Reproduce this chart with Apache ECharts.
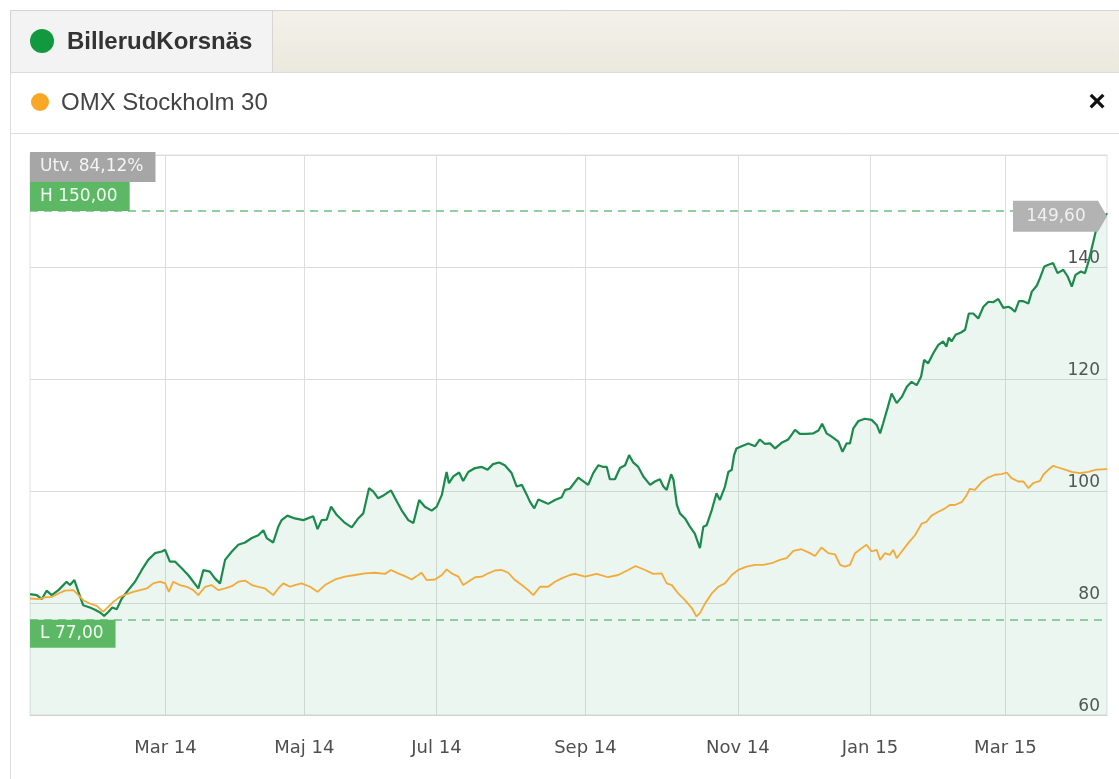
<!DOCTYPE html>
<html>
<head>
<meta charset="utf-8">
<script src="https://cdn.jsdelivr.net/npm/echarts@6/dist/echarts.min.js"></script>
<style>
html,body{margin:0;padding:0;background:#fff;}
#chart{width:1119px;height:779px;}
</style>
</head>
<body>
<div id="chart"></div>
<script>
// ---- Data (x = trading-day index from start of period) ----
const billerudName = 'BillerudKorsnäs';
const omxName = 'OMX Stockholm 30';

const monthTickDays = [40, 81, 120, 164, 209, 248, 288];
const monthTickLabels = ['Mar 14', 'Maj 14', 'Jul 14', 'Sep 14', 'Nov 14', 'Jan 15', 'Mar 15'];
const yAxisMin = 60;
const yAxisMax = 160;
const yAxisStep = 20;
const xAxisMax = 318;

const highValue = 150.00;
const lowValue = 77.00;
const changeText = 'Utv. 84,12%';
const lastValue = 149.60;

const billerud = [
 [0,81.6],[2.0,81.4],[3.5,80.7],[4.9,82.2],[6.4,81.4],[8.4,82.3],[10.8,83.8],[11.8,83.2],[13.1,84.1],[14.3,82.0],
 [15.7,79.6],[17.7,79.2],[19.2,78.8],[20.7,78.3],[21.9,77.7],[23.1,78.4],[24.3,79.2],[25.6,78.9],[27.1,80.8],[29.0,82.3],
 [31.0,83.8],[33.0,85.9],[34.9,87.7],[36.9,88.9],[38.9,89.2],[39.9,89.5],[41.3,87.4],[42.8,87.4],[44.8,86.2],[46.7,85.0],
 [49.7,82.6],[51.2,85.9],[53.1,85.6],[54.6,84.4],[56.1,83.5],[57.6,87.7],[59.6,89.2],[61.5,90.4],[63.5,90.8],[65.5,91.6],
 [67.4,92.1],[68.9,93.0],[69.9,91.6],[71.8,90.8],[73.3,93.6],[74.3,94.8],[76.0,95.6],[78.2,95.1],[80.7,94.8],[83.6,95.5],
 [84.9,93.2],[86.1,94.8],[87.6,94.9],[88.9,97.2],[90.6,95.7],[93.0,94.3],[95.0,93.5],[96.9,95.1],[98.4,96.0],[100.1,100.5],
 [101.4,99.9],[102.8,98.7],[104.6,99.3],[106.6,100.1],[107.8,98.7],[109.7,96.6],[111.7,94.8],[113.2,94.3],[114.9,98.4],[116.6,97.2],
 [118.6,96.5],[120.1,97.2],[121.6,99.3],[122.3,101.4],[123.0,103.4],[123.7,101.4],[125.0,102.6],[126.7,103.3],[127.9,101.8],[129.4,103.4],
 [131.4,104.1],[133.4,104.3],[135.1,103.8],[136.7,104.8],[138.5,105.1],[140.2,104.6],[142.2,103.2],[143.7,100.8],[145.2,101.1],[146.7,99.3],
 [147.6,98.1],[148.9,96.9],[150.1,98.5],[151.6,98.1],[153.0,97.7],[155.0,98.4],[157.0,98.9],[158.0,100.2],[159.4,100.4],[161.9,102.4],
 [163.9,101.5],[164.8,101.1],[166.3,103.2],[167.8,104.6],[169.3,104.3],[170.3,104.3],[171.2,102.1],[172.7,102.1],[174.2,104.1],[175.7,104.6],
 [176.9,106.4],[178.1,105.1],[179.6,104.3],[181.1,102.6],[183.1,101.1],[184.5,101.7],[186.0,102.1],[187.0,100.8],[188.0,100.2],[189.3,103.0],
 [190.0,102.0],[191.0,97.5],[191.9,96.0],[193.4,95.1],[194.9,93.6],[196.3,92.4],[197.8,89.8],[198.8,93.6],[199.8,93.9],[201.3,96.6],
 [202.7,99.6],[203.7,98.4],[205.2,100.8],[206.2,103.4],[207.2,103.8],[207.9,106.4],[208.6,107.6],[210.1,108.0],[212.1,108.5],[214.1,108.0],
 [215.5,109.2],[217.0,108.4],[218.5,108.5],[220.0,107.6],[221.9,108.6],[223.9,109.2],[225.9,110.9],[227.3,110.2],[229.3,110.2],[231.3,110.3],
 [232.8,110.8],[233.9,112.0],[235.2,110.3],[236.7,109.7],[238.7,108.8],[239.9,107.0],[241.1,108.5],[242.1,108.5],[243.1,111.2],[244.6,112.5],
 [246.5,112.9],[248.5,112.7],[250.0,111.8],[251.0,110.3],[251.9,112.1],[253.2,114.8],[254.4,117.4],[255.9,115.7],[257.4,116.8],[258.9,118.6],
 [260.3,119.5],[261.8,118.9],[263.1,120.4],[264.0,123.4],[265.2,122.8],[266.7,124.6],[268.2,126.1],[269.6,126.7],[270.6,125.8],[271.3,127.4],
 [272.1,126.7],[273.3,127.9],[274.9,128.3],[276.1,128.8],[277.2,131.7],[278.5,131.7],[280.0,130.8],[281.5,132.9],[283.0,133.8],[284.4,133.7],
 [285.9,134.3],[287.4,132.7],[288.9,132.9],[289.8,132.6],[290.8,132.0],[292.0,133.9],[293.3,133.9],[294.8,133.5],[295.8,135.6],[297.3,136.7],
 [298.2,138.0],[299.5,140.1],[300.7,140.4],[302.1,140.7],[303.4,138.9],[305.1,139.5],[306.4,138.3],[307.6,136.5],[308.7,138.6],[310.3,139.2],
 [311.5,138.9],[312.7,141.3],[313.6,143.6],[314.9,146.9],[316.4,148.1],[318,149.6]
];

const omx = [
 [0,80.8],[2.5,80.7],[4.4,81.0],[6.4,81.1],[8.4,81.7],[10.3,82.2],[12.8,82.3],[14.3,81.4],[15.7,80.5],[17.7,79.9],
 [19.7,79.5],[21.6,78.4],[22.9,79.2],[24.6,80.2],[26.6,81.1],[28.6,81.6],[30.5,82.0],[32.5,82.3],[34.5,82.6],[36.4,83.5],
 [38.4,83.8],[39.9,83.5],[41.0,82.0],[42.3,83.8],[44.3,83.2],[46.3,82.9],[48.2,82.3],[49.7,81.4],[51.7,82.9],[53.6,83.2],
 [55.6,82.3],[57.6,82.6],[59.6,83.0],[61.5,83.8],[63.5,84.0],[65.5,83.2],[67.4,82.9],[69.4,82.6],[71.8,81.4],[73.3,82.6],
 [74.8,83.5],[76.8,82.9],[78.2,83.2],[80.2,83.5],[82.7,82.9],[84.9,82.0],[87.1,83.2],[90.1,84.2],[93.0,84.7],[96.0,85.0],
 [98.9,85.3],[101.9,85.4],[104.8,85.2],[106.6,85.9],[108.7,85.3],[110.7,84.8],[112.7,84.2],[114.2,84.8],[115.6,85.4],[117.1,84.1],
 [119.6,84.2],[121.6,85.0],[123.0,86.0],[124.5,85.3],[126.5,84.7],[127.9,83.2],[129.4,83.8],[131.4,84.6],[133.4,84.7],[135.3,85.3],
 [137.3,85.8],[139.3,85.9],[141.2,85.4],[143.2,84.1],[145.2,83.2],[147.1,82.3],[148.6,81.4],[150.6,82.9],[153.0,82.9],[155.0,83.8],
 [157.0,84.4],[159.4,85.0],[160.9,85.2],[163.9,84.7],[167.3,85.2],[170.7,84.6],[173.7,85.0],[176.6,85.9],[178.8,86.6],[181.6,85.9],
 [184.0,85.2],[186.5,85.3],[188.0,83.5],[189.5,83.2],[191.4,81.7],[193.4,80.5],[195.4,79.1],[196.8,77.6],[197.8,78.2],[199.3,79.9],
 [201.3,81.7],[203.2,82.9],[205.2,83.5],[207.2,85.0],[209.1,85.9],[211.6,86.5],[214.1,86.8],[216.5,86.8],[219.0,87.1],[221.4,87.7],
 [223.4,88.0],[225.4,89.3],[227.8,89.6],[230.3,88.9],[231.8,88.4],[233.7,89.9],[235.7,88.9],[237.7,88.7],[239.2,86.8],[240.6,86.5],
 [242.1,86.8],[243.6,88.9],[245.6,89.8],[247.0,90.4],[248.5,89.2],[250.0,89.5],[251.0,87.7],[252.4,88.9],[253.9,88.6],[254.9,89.5],
 [255.9,88.0],[257.4,89.2],[259.3,90.7],[261.3,92.1],[263.3,94.2],[264.7,94.5],[266.2,95.6],[268.2,96.3],[270.2,96.9],[271.6,97.5],
 [273.1,97.5],[275.1,98.0],[276.6,99.3],[277.5,100.4],[279.0,100.2],[281.0,101.6],[282.9,102.4],[284.9,102.9],[286.9,103.0],[288.4,103.3],
 [289.8,102.3],[291.8,101.7],[293.3,101.7],[294.8,100.5],[296.2,101.4],[298.2,101.8],[299.2,102.9],[300.7,103.8],[302.1,104.5],[303.6,104.2],
 [305.6,103.8],[307.6,103.4],[310.0,103.2],[312.5,103.4],[314.9,103.8],[318,103.9]
];

// ---- Styling ----
const GREEN = '#1b8a4c';
const ORANGE = '#f4aa38';
const LABEL_FONT = 'DejaVu Sans';
const fmt = v => v.toFixed(2).replace('.', ',');

const chart = echarts.init(document.getElementById('chart'), null, {renderer: 'canvas'});

const option = {
  animation: false,
  backgroundColor: '#fff',
  grid: {left: 30, right: 12, top: 155, bottom: 64, show: true, borderColor: '#e0e0e0', borderWidth: 1},
  xAxis: {
    type: 'value', min: 0, max: xAxisMax,
    axisLine: {show: true, lineStyle: {color: '#d2d2d2'}},
    axisTick: {show: false, customValues: monthTickDays},
    axisLabel: {
      customValues: monthTickDays,
      formatter: v => monthTickLabels[monthTickDays.indexOf(v)] || '',
      color: '#4f4f4f', fontSize: 18, fontFamily: LABEL_FONT, margin: 24
    },
    splitLine: {show: true, lineStyle: {color: '#dedede', width: 1}}
  },
  yAxis: {
    type: 'value', position: 'right', min: yAxisMin, max: yAxisMax, interval: yAxisStep,
    axisLine: {show: false}, axisTick: {show: false},
    axisLabel: {
      inside: true, margin: 7, verticalAlign: 'bottom', color: '#4f4f4f', fontSize: 17, fontFamily: LABEL_FONT,
      formatter: v => (v >= yAxisMax ? '' : String(v))
    },
    splitLine: {show: true, lineStyle: {color: '#dcdcdc', width: 1}}
  },
  series: [
    {
      name: billerudName, type: 'line', data: billerud, showSymbol: false, z: 3,
      lineStyle: {color: GREEN, width: 2.2}, itemStyle: {color: GREEN},
      areaStyle: {color: 'rgba(70,180,110,0.16)', origin: 'start'},
      markLine: {
        silent: true, symbol: 'none', animation: false,
        lineStyle: {color: '#6fc080', type: [8, 6], width: 1.5},
        data: [
          {
            yAxis: highValue,
            label: {
              show: true, position: 'insideStartTop', distance: [0, 0],
              formatter: '{u|' + changeText + '}\n{h|H ' + fmt(highValue) + '}',
              rich: {
                u: {backgroundColor: '#a6a6a6', color: '#f4f4f4', fontSize: 17, fontFamily: LABEL_FONT, height: 30, padding: [0, 12, 0, 10], align: 'left'},
                h: {backgroundColor: '#5cb865', color: '#f2fff2', fontSize: 17, fontFamily: LABEL_FONT, height: 29, padding: [0, 12, 0, 10], align: 'left'}
              }
            }
          },
          {
            yAxis: lowValue,
            label: {
              show: true, position: 'insideStartBottom', distance: [0, 0],
              formatter: '{l|L ' + fmt(lowValue) + '}',
              rich: {
                l: {backgroundColor: '#5cb865', color: '#f2fff2', fontSize: 17, fontFamily: LABEL_FONT, height: 28, padding: [0, 12, 0, 10]}
              }
            }
          }
        ]
      },
      markPoint: {
        silent: true, animation: false,
        symbol: 'path://M0,0 L85,0 L94,15.5 L85,31 L0,31 Z',
        symbolSize: [94, 31], symbolOffset: [-47, 3],
        itemStyle: {color: '#b3b3b3'},
        label: {show: true, position: 'inside', offset: [-4, 0], color: '#f0f0f0', fontSize: 17, fontFamily: LABEL_FONT,
                 formatter: () => fmt(lastValue)},
        data: [{coord: [billerud[billerud.length - 1][0], lastValue]}]
      }
    },
    {
      name: omxName, type: 'line', data: omx, showSymbol: false, z: 4,
      lineStyle: {color: ORANGE, width: 1.8}, itemStyle: {color: ORANGE}
    }
  ],
  graphic: [
    // header tab row
    {type: 'rect', shape: {x: 10.5, y: 10.5, width: 1120, height: 62},
     style: {fill: new echarts.graphic.LinearGradient(0, 0, 0, 1, [{offset: 0, color: '#f3f1ea'}, {offset: 1, color: '#ebe8dd'}]), stroke: '#d5d5d5', lineWidth: 1}},
    {type: 'rect', shape: {x: 10.5, y: 10.5, width: 262, height: 62}, style: {fill: '#f3f3f3', stroke: '#d5d5d5', lineWidth: 1}},
    {type: 'circle', shape: {cx: 42, cy: 41, r: 12}, style: {fill: '#12993f'}},
    {type: 'text', x: 67, y: 42, style: {text: billerudName, fill: '#333', font: 'bold 24px "Liberation Sans", Arial, sans-serif', textVerticalAlign: 'middle'}},
    // second row
    {type: 'rect', shape: {x: 10.5, y: 72.5, width: 1120, height: 61}, style: {fill: '#ffffff', stroke: '#dcdcdc', lineWidth: 1}},
    {type: 'circle', shape: {cx: 40, cy: 102, r: 9}, style: {fill: '#f9a825'}},
    {type: 'text', x: 61, y: 103, style: {text: omxName, fill: '#444', font: '24px "Liberation Sans", Arial, sans-serif', textVerticalAlign: 'middle'}},
    {type: 'text', x: 1097, y: 103, style: {text: '×', fill: '#111', font: 'bold 30px "Liberation Sans", Arial, sans-serif', textAlign: 'center', textVerticalAlign: 'middle'}},
    // left border of widget
    {type: 'line', shape: {x1: 10.5, y1: 133, x2: 10.5, y2: 779}, style: {stroke: '#dcdcdc', lineWidth: 1}}
  ]
};

chart.setOption(option);
</script>
</body>
</html>
